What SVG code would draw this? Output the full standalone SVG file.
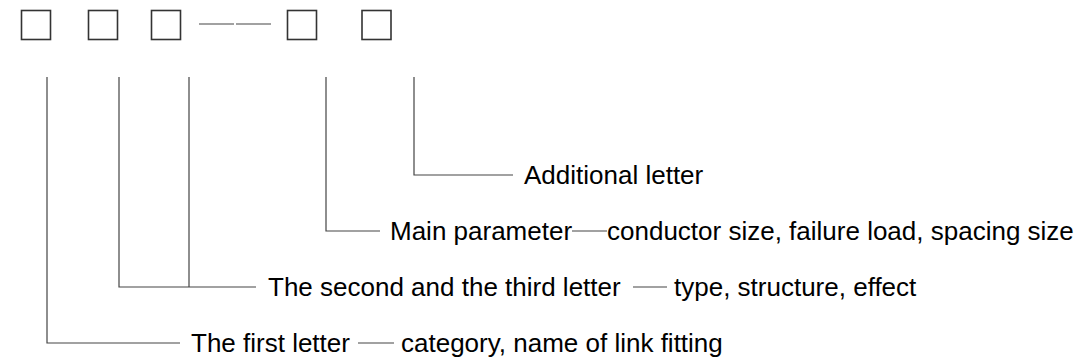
<svg xmlns="http://www.w3.org/2000/svg" width="1080" height="360" viewBox="0 0 1080 360">
<style>
.box{fill:none;stroke:#333;stroke-width:1.6}
.ln{fill:none;stroke:#444;stroke-width:1.2}
.t{font-family:"Liberation Sans",Arial,sans-serif;font-size:26px;fill:#000}
</style>
<rect width="1080" height="360" fill="#fff"/>
<g id="box1"><rect class="box" x="21.5" y="10.5" width="29" height="29"/></g>
<g id="box2"><rect class="box" x="88.5" y="10.5" width="29" height="29"/></g>
<g id="box3"><rect class="box" x="151.5" y="10.5" width="29" height="29"/></g>
<g id="dash"><path class="ln" d="M199 24H234M236 24H271" stroke="#222" stroke-width="1.5"/></g>
<g id="box4"><rect class="box" x="287.5" y="10.5" width="29" height="29"/></g>
<g id="box5"><rect class="box" x="362" y="10.5" width="29" height="29"/></g>
<g id="connectors">
<path class="ln" d="M47 77V343H180"/>
<path class="ln" d="M119 77V287H256M189 77V287"/>
<path class="ln" d="M326 77V231H380"/>
<path class="ln" d="M414 77V175H513"/>
<path class="ln" d="M358 343H394M633 287H667M572 231H607"/>
</g>
<g id="label1"><text class="t" x="191" y="352">The first letter</text><text class="t" x="401" y="352">category, name of link fitting</text></g>
<g id="label2"><text class="t" x="268" y="296">The second and the third letter</text><text class="t" x="674" y="296">type, structure, effect</text></g>
<g id="label3"><text class="t" x="390" y="240">Main parameter</text><text class="t" x="607" y="240">conductor size, failure load, spacing size</text></g>
<g id="label4"><text class="t" x="524" y="184">Additional letter</text></g>
</svg>
